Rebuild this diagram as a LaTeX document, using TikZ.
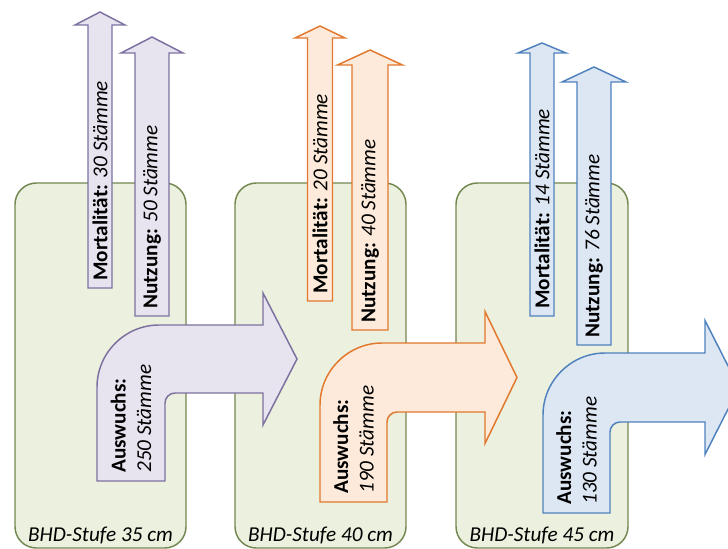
\documentclass[tikz,border=0pt]{standalone}
\usepackage{fontspec}
\setmainfont{Carlito}
\definecolor{boxfill}{RGB}{235,241,222}
\definecolor{boxline}{RGB}{115,135,80}
\definecolor{pfill}{RGB}{231,227,239}
\definecolor{pline}{RGB}{125,112,160}
\definecolor{ofill}{RGB}{253,234,218}
\definecolor{oline}{RGB}{225,120,45}
\definecolor{bfill}{RGB}{221,231,243}
\definecolor{bline}{RGB}{79,129,189}
% style, cx, halfshaft, halfwing, bottom, head base, tip
\newcommand\UpArr[7]{%
  \filldraw[#1] ({#2-#3},#5) -- ({#2-#3},#6) -- ({#2-#4},#6) -- (#2,#7) -- ({#2+#4},#6) -- ({#2+#3},#6) -- ({#2+#3},#5) -- cycle;}
% style, xL, xI, yB, yT, yH, xB, halfwing, xTip
\newcommand\BentArr[9]{%
  \filldraw[#1] (#2,#4) -- (#2,{#5+62}) .. controls (#2,{#5+28}) and ({#2+28},#5) .. ({#2+62},#5)
    -- (#7,#5) -- (#7,{(#5+#6)/2-#8}) -- (#9,{(#5+#6)/2}) -- (#7,{(#5+#6)/2+#8}) -- (#7,#6)
    -- ({#3+10},#6) .. controls ({#3+4.5},#6) and (#3,{#6+4.5}) .. (#3,{#6+10}) -- (#3,#4) -- cycle;}
\tikzset{
  stage/.style={fill=boxfill, draw=boxline, line width=1.1pt, rounded corners=16},
  purp/.style={fill=pfill, draw=pline, line width=1.1pt, line join=miter},
  oran/.style={fill=ofill, draw=oline, line width=1.1pt, line join=miter},
  blau/.style={fill=bfill, draw=bline, line width=1.1pt, line join=miter},
  vlabel/.style={rotate=90, anchor=west, inner sep=0pt, align=left, font=\fontsize{15.9}{19}\selectfont},
  blabel/.style={anchor=base, inner sep=0pt, font=\fontsize{15.9}{19}\selectfont\itshape}
}
\begin{document}
\begin{tikzpicture}[x=0.75pt, y=-0.75pt]
\useasboundingbox (0,0) rectangle (728,549);
\clip (0,0) rectangle (728,549);
% stages
\draw[stage] (15,183) rectangle (186,548);
\draw[stage] (235,183) rectangle (406,548);
\draw[stage] (456,183) rectangle (628,548);
% group 1
\UpArr{purp}{100}{12}{25}{288}{25}{12}
\UpArr{purp}{152}{17}{31}{316}{53}{37}
\BentArr{purp}{97}{165}{481}{325}{393}{263}{66}{297}
% group 2
\UpArr{oran}{320}{12.5}{25}{301}{38}{26}
\UpArr{oran}{370}{18}{32.5}{330}{65}{50}
\BentArr{oran}{320}{387}{502}{343}{412}{485}{66}{517}
% group 3
\UpArr{blau}{542}{12}{24}{316}{53}{43}
\UpArr{blau}{594}{17}{32}{345}{82}{67}
\BentArr{blau}{543}{610}{513}{353}{422}{705}{67}{739}
% texts
\node[vlabel] (m1) at (100,281) {\textbf{Mortalität:} \textit{30 Stämme}};
\node[vlabel] (n1) at (152,309) {\textbf{Nutzung:} \textit{50 Stämme}};
\node[vlabel] (a1) at (131,473) {\textbf{Auswuchs:}\\\textit{250 Stämme}};
\node[vlabel] (m2) at (320,294) {\textbf{Mortalität:} \textit{20 Stämme}};
\node[vlabel] (n2) at (370,323) {\textbf{Nutzung:} \textit{40 Stämme}};
\node[vlabel] (a2) at (353.5,494) {\textbf{Auswuchs:}\\\textit{190 Stämme}};
\node[vlabel] (m3) at (542,309) {\textbf{Mortalität:} \textit{14 Stämme}};
\node[vlabel] (n3) at (594,338) {\textbf{Nutzung:} \textit{76 Stämme}};
\node[vlabel] (a3) at (576.5,505) {\textbf{Auswuchs:}\\\textit{130 Stämme}};
\node[blabel] (l1) at (100.5,541) {BHD-Stufe 35 cm};
\node[blabel] (l2) at (320.5,541) {BHD-Stufe 40 cm};
\node[blabel] (l3) at (542,541) {BHD-Stufe 45 cm};
\end{tikzpicture}
\end{document}
